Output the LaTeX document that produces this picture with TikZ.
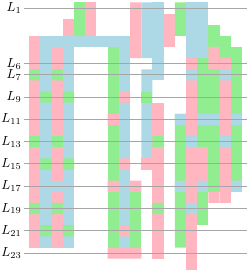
\documentclass[tikz,border=0pt]{standalone}
\definecolor{lpink}{HTML}{FFB6C1}
\definecolor{lgreen}{HTML}{90EE90}
\definecolor{lblue}{HTML}{ADD8E6}
\begin{document}
\begin{tikzpicture}[x=0.3cm, y=0.2985cm,
        pk/.style={fill=lpink},
        gr/.style={fill=lgreen},
        bl/.style={fill=lblue},
        level/.style={draw=black!35, line width=0.7pt},
        lab/.style={anchor=east, inner sep=1.5pt}
    ]
        \useasboundingbox (-2.616,-24.52) rectangle (19.438,-0.282);

        % Colonnes de gauche (c = 0..3)
        \fill[pk] (0,-3.5) rectangle (1,-22.5);
        \fill[gr] (0,-6.5) rectangle (1,-7.5) (0,-12.5) rectangle (1,-13.5) (0,-18.5) rectangle (1,-19.5);
        \fill[bl] (1,-3.5) rectangle (2,-22.5);
        \fill[gr] (1,-8.5) rectangle (2,-9.5) (1,-14.5) rectangle (2,-15.5) (1,-20.5) rectangle (2,-21.5);
        \fill[pk] (2,-4.5) rectangle (3,-22.5);
        \fill[gr] (2,-6.5) rectangle (3,-7.5) (2,-12.5) rectangle (3,-13.5) (2,-18.5) rectangle (3,-19.5);
        \fill[bl] (2,-16.5) rectangle (3,-17.5);
        \fill[pk] (3,-2) rectangle (4,-3.5);
        \fill[bl] (3,-3.5) rectangle (4,-22.5);
        \fill[gr] (3,-8.5) rectangle (4,-9.5) (3,-14.5) rectangle (4,-15.5) (3,-20.5) rectangle (4,-21.5);

        % Barre horizontale et colonnes du haut
        \fill[bl] (1,-3.5) rectangle (9,-4.5);
        \fill[gr] (4,-0.5) rectangle (5,-3.5);
        \fill[pk] (5,-0.5) rectangle (6,-3.5);

        % Colonnes du milieu (c = 7..12)
        \fill[gr] (7,-4.5) rectangle (8,-22.5);
        \fill[pk] (7,-10.5) rectangle (8,-11.5) (7,-16.5) rectangle (8,-17.5) (7,-22.5) rectangle (8,-23.5);
        \fill[bl] (8,-3.5) rectangle (9,-22.5);
        \fill[pk] (8,-8.5) rectangle (9,-9.5) (8,-14.5) rectangle (9,-15.5) (8,-20.5) rectangle (9,-21.5) (8,-22.5) rectangle (9,-23.5);
        \fill[pk] (9,-0.5) rectangle (10,-5.5) (9,-16.5) rectangle (10,-17.5) (9,-22.5) rectangle (10,-23.5);
        \fill[gr] (9,-17.5) rectangle (10,-22.5);
        \fill[bl] (10,-0.5) rectangle (11,-5.5) (10,-6.5) rectangle (11,-14.5);
        \fill[gr] (10,-8.5) rectangle (11,-9.5);
        \fill[pk] (10,-14.5) rectangle (11,-15.5);
        \fill[bl] (11,-0.5) rectangle (12,-7.5);
        \fill[pk] (11,-9.5) rectangle (12,-23.5);
        \fill[gr] (11,-12.5) rectangle (12,-13.5) (11,-18.5) rectangle (12,-19.5);
        \fill[pk] (12,-1.5) rectangle (13,-4.5);

        % Colonnes de droite (c = 13..18)
        \fill[gr] (13,-0.5) rectangle (14,-3.5) (13,-10.5) rectangle (14,-22.5);
        \fill[bl] (13,-10.5) rectangle (14,-11.5) (13,-16.5) rectangle (14,-17.5);
        \fill[bl] (14,-0.5) rectangle (15,-5.5);
        \fill[pk] (14,-5.5) rectangle (15,-24.5);
        \fill[bl] (14,-6.5) rectangle (15,-7.5) (14,-12.5) rectangle (15,-13.5) (14,-18.5) rectangle (15,-19.5);
        \fill[bl] (15,-0.5) rectangle (16,-5.5);
        \fill[gr] (15,-5.5) rectangle (16,-20.5);
        \fill[pk] (15,-13.5) rectangle (16,-16.5);
        \fill[bl] (15,-10.5) rectangle (16,-11.5) (15,-16.5) rectangle (16,-17.5);
        \fill[gr] (16,-2.5) rectangle (17,-17.5);
        \fill[pk] (16,-4.5) rectangle (17,-6.5) (16,-17.5) rectangle (17,-18.5);
        \fill[bl] (16,-10.5) rectangle (17,-11.5);
        \fill[gr] (17,-3.5) rectangle (18,-5.5);
        \fill[pk] (17,-5.5) rectangle (18,-18.5);
        \fill[bl] (17,-6.5) rectangle (18,-7.5) (17,-12.5) rectangle (18,-13.5);
        \fill[gr] (18,-4.5) rectangle (19,-17.5);
        \fill[bl] (18,-10.5) rectangle (19,-11.5) (18,-16.5) rectangle (19,-17.5);

        % Niveaux (étiquettes et lignes)
        \coordinate (E) at (19.5,0);
        \node[lab] (L1) at (-0.5,-1) {$L_1$};
        \node[lab] (L6) at (-0.5,-6) {$L_6$};
        \node[lab] (L7) at (-0.5,-7) {$L_7$};
        \node[lab] (L9) at (-0.5,-9) {$L_9$};
        \node[lab] (L11) at (-0.5,-11) {$L_{11}$};
        \node[lab] (L13) at (-0.5,-13) {$L_{13}$};
        \node[lab] (L15) at (-0.5,-15) {$L_{15}$};
        \node[lab] (L17) at (-0.5,-17) {$L_{17}$};
        \node[lab] (L19) at (-0.5,-19) {$L_{19}$};
        \node[lab] (L21) at (-0.5,-21) {$L_{21}$};
        \node[lab] (L23) at (-0.5,-23) {$L_{23}$};

        \draw[level] (L1) -- (L1 -| E);
        \draw[level] (L6) -- (L6 -| E);
        \draw[level] (L7) -- (L7 -| E);
        \draw[level] (L9) -- (L9 -| E);
        \draw[level] (L11) -- (L11 -| E);
        \draw[level] (L13) -- (L13 -| E);
        \draw[level] (L15) -- (L15 -| E);
        \draw[level] (L17) -- (L17 -| E);
        \draw[level] (L19) -- (L19 -| E);
        \draw[level] (L21) -- (L21 -| E);
        \draw[level] (L23) -- (L23 -| E);
\end{tikzpicture}
\end{document}
